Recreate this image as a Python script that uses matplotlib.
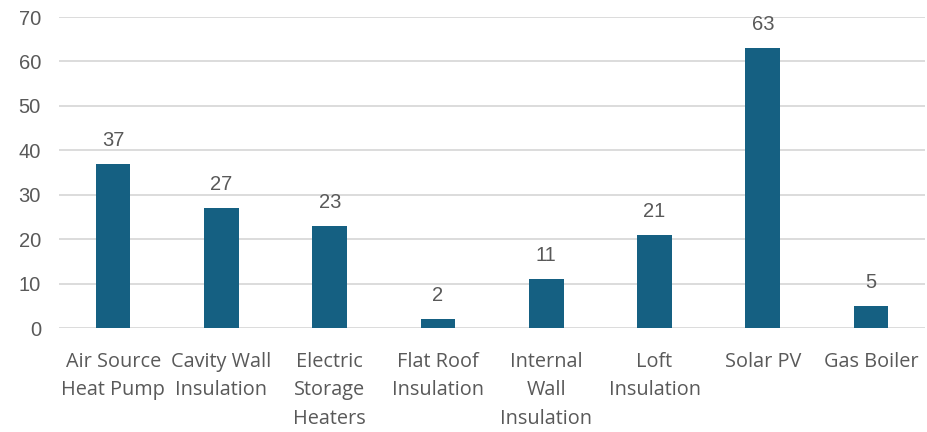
import numpy as np
import matplotlib
matplotlib.use('Agg')
import matplotlib.pyplot as plt

plt.rcParams['font.family'] = ['Open Sans', 'DejaVu Sans']

categories = ['Air Source\nHeat Pump', 'Cavity Wall\nInsulation', 'Electric\nStorage\nHeaters',
              'Flat Roof\nInsulation', 'Internal\nWall\nInsulation', 'Loft\nInsulation',
              'Solar PV', 'Gas Boiler']
values = [37, 27, 23, 2, 11, 21, 63, 5]
yticks = [0, 10, 20, 30, 40, 50, 60, 70]

bar_color = '#156082'
text_color = '#595959'
grid_color = '#D9D9D9'
num_font = ['Liberation Sans', 'DejaVu Sans']

fig = plt.figure(figsize=(9.28, 4.32), dpi=100)
ax = fig.add_axes([0.0636, 0.2407, 0.9334, 0.7199])

x = np.arange(len(categories))
bars = ax.bar(x, values, width=0.32, color=bar_color, zorder=3)

for xi, v in zip(x, values):
    ax.annotate(str(v), (xi, v), xytext=(0, 10), textcoords='offset points',
                ha='center', va='bottom', fontsize=14.5, color=text_color,
                family=num_font)

ax.set_xlim(-0.5, len(categories) - 0.5)
ax.set_ylim(0, 70)
ax.set_yticks(yticks)
ax.set_yticklabels([str(t) for t in yticks], family=num_font, fontsize=14.5)
ax.set_xticks(x)
ax.set_xticklabels(categories, linespacing=1.58, fontsize=14.3)
ax.yaxis.grid(True, color=grid_color, linewidth=1.3, zorder=0)
ax.tick_params(axis='both', length=0, colors=text_color)
ax.tick_params(axis='y', pad=13)
ax.tick_params(axis='x', pad=17)
for s in ax.spines.values():
    s.set_visible(False)

plt.savefig('out.png', dpi=100)
